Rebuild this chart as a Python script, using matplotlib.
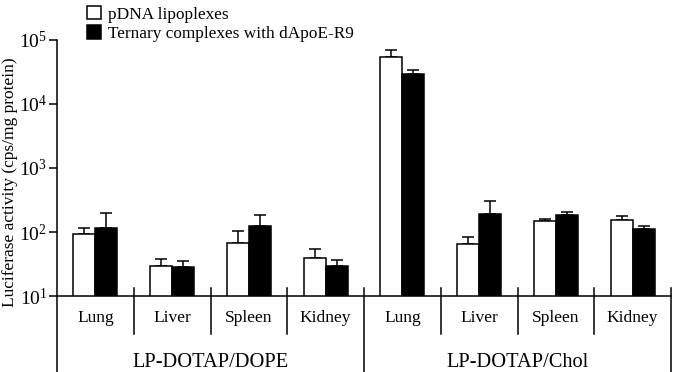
import matplotlib
matplotlib.use("Agg")
import matplotlib.pyplot as plt
import numpy as np
from matplotlib.patches import Patch
from matplotlib.ticker import LogLocator, NullLocator

plt.rcParams['font.family'] = ['Liberation Serif', 'DejaVu Serif']
plt.rcParams['mathtext.fontset'] = 'custom'
plt.rcParams['mathtext.rm'] = 'Liberation Serif'
plt.rcParams['mathtext.it'] = 'Liberation Serif:italic'

organs = ["Lung", "Liver", "Spleen", "Kidney", "Lung", "Liver", "Spleen", "Kidney"]
groups = ["LP-DOTAP/DOPE", "LP-DOTAP/Chol"]
series_names = ["pDNA lipoplexes", "Ternary complexes with dApoE-R9"]
pdna = [92, 29, 67, 39, 54000, 64, 147, 152]
pdna_err = [22, 9, 36, 15, 15000, 19, 15, 24]
tern = [114, 28, 123, 29, 29500, 189, 182, 110]
tern_err = [81, 7, 59, 7, 4500, 121, 27, 13]

W, H = 677, 372
fig = plt.figure(figsize=(W/100, H/100), dpi=100)
ax = fig.add_axes([57/W, (H-296)/H, (671-57)/W, (296-40)/H])

x = np.arange(len(organs))
bw = 0.287
lw = 1.1
ax.bar(x - bw/2, pdna, bw, color='white', edgecolor='black', linewidth=lw, zorder=2)
ax.bar(x + bw/2, tern, bw, color='black', edgecolor='black', linewidth=lw, zorder=2)
ax.errorbar(x - bw/2, pdna, yerr=[np.zeros(len(pdna)), pdna_err], fmt='none',
            ecolor='black', elinewidth=1.1, capsize=4, capthick=1.1, zorder=1)
ax.errorbar(x + bw/2, tern, yerr=[np.zeros(len(tern)), tern_err], fmt='none',
            ecolor='black', elinewidth=1.1, capsize=4, capthick=1.1, zorder=1)

ax.set_yscale('log')
ax.set_ylim(10, 1e5)
ax.set_xlim(-0.5, 7.5)
ax.yaxis.set_major_locator(LogLocator(base=10, numticks=10))
ax.yaxis.set_minor_locator(NullLocator())
ax.tick_params(axis='y', direction='out', length=6, width=1.1, pad=1, labelsize=14)
ax.set_xticks([])
for s in ['top', 'right']:
    ax.spines[s].set_visible(False)
ax.spines['left'].set_linewidth(1.1)
ax.spines['bottom'].set_linewidth(1.1)

# extended left spine
ax.plot([-0.5, -0.5], [0, -0.3], transform=ax.get_xaxis_transform(),
        color='black', lw=1.1, clip_on=False)
# separators
for xs in [0.5, 1.5, 2.5, 4.5, 5.5, 6.5]:
    ax.plot([xs, xs], [0.031, -0.148], transform=ax.get_xaxis_transform(),
            color='black', lw=1.1, clip_on=False)
for xs in [3.5, 7.5]:
    ax.plot([xs, xs], [0.031, -0.3], transform=ax.get_xaxis_transform(),
            color='black', lw=1.1, clip_on=False)

for xi, name in zip(x, organs):
    ax.text(xi, -0.084, name, transform=ax.get_xaxis_transform(),
            ha='center', va='center', fontsize=12.5)
for gi, g in enumerate(groups):
    ax.text(1.5 + 4*gi, -0.26, g, transform=ax.get_xaxis_transform(),
            ha='center', va='center', fontsize=14.7)

fig.text(10/W, 1 - 182/H, "Luciferase activity (cps/mg protein)", rotation=90,
         ha='center', va='center', fontsize=12.5)

handles = [Patch(facecolor='white', edgecolor='black', linewidth=1.1),
           Patch(facecolor='black', edgecolor='black', linewidth=1.1)]
fig.legend(handles, series_names, loc='upper left', bbox_to_anchor=(85/W, 1 - 4/H),
           frameon=False, fontsize=12.4, handlelength=0.85, handleheight=0.85,
           handletextpad=0.4, labelspacing=0.15, borderaxespad=0.0, borderpad=0.1)

fig.savefig("out.png", dpi=100)
